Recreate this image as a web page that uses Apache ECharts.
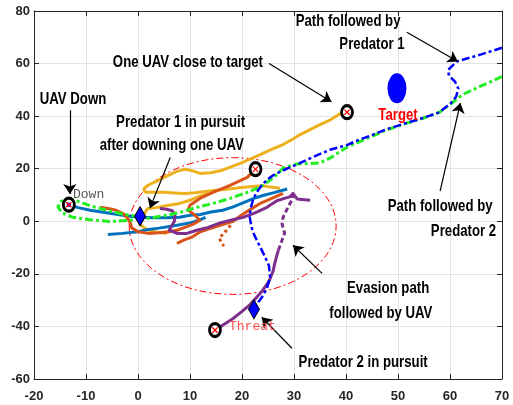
<!DOCTYPE html>
<html><head><meta charset="utf-8">
<script src="https://cdn.jsdelivr.net/npm/echarts@6/dist/echarts.min.js"></script>
<style>html,body{margin:0;padding:0;background:#fff}#chart{width:513px;height:405px}</style>
</head><body><div id="chart"></div>
<script>
// Axis ranges
const xRange = [-20, 70, 10];
const yRange = [-60, 80, 20];

// Predator trajectories (dash-dot)
const predatorBlue = [[70,66],[66,63.5],[61.3,60.8],[59.6,57.5],[59.8,55.5],[61,53],[61.6,50.5],[61.2,47.5],[60.2,45],[58,41.5],[54.8,39.3],[51,37],[47.5,34.8],[44.6,32.5],[42,30.6],[40.2,29],[36.9,27.2],[33.7,24.5],[31,22],[29.2,20.5],[27.5,19],[26,17.5],[24.8,15.8],[23.8,13.7],[22.8,11],[22.1,8],[21.6,4.5],[21.5,1.5],[21.8,-2],[22.3,-5],[23.3,-9],[24.3,-13],[25.2,-17],[25.4,-21.3],[24.8,-25.5],[23.8,-29],[22.5,-32.5]];
const predatorGreen = [[70,55],[66,51.5],[62.5,48.3],[60.5,45.2],[58,41.5],[54.8,39.2],[51,36.9],[47.5,34.5],[44.6,32],[40.2,28.2],[36.9,24],[35,22.2],[33,22],[30.6,21.8],[27.9,20.3],[26.7,17.8],[25.5,15.8],[24,13.7],[22.5,12.2],[21,11],[17.7,8.7],[14.4,6.8],[11.3,5.3],[8.1,3.4],[5.6,2.3],[1.7,1.1],[-1.5,0.4],[-5.4,-0.1],[-9.2,0.6],[-12.5,1.5],[-14.6,3.2],[-15.4,5.5],[-14.8,7.6],[-13.2,8.6],[-11.5,7.6],[-9,5.8],[-6,4.2],[-3,2.8],[-0.5,2]];

// UAV trajectories
const uavBlueA = [[-13.3,6.3],[-11.5,5.2],[-9.2,4.2],[-7,3.5],[-4.5,2.8],[-2,2],[0.5,1.5],[3,1.3],[5.5,1.3],[8,1.5],[10,2.3],[12,2.6],[14,3.5],[16.3,4.2],[18.3,5.5],[20.2,7],[22,8.5],[24,9.8],[26,10.8],[28.7,12.3]];
const uavBlueB = [[-5.8,-5],[-3,-4.6],[0,-4],[1.7,-3.2],[4,-2.6],[7.5,-1.5],[10,-0.6],[11.9,0.5],[13,1.5]];
const uavOrangeA = [[-7.3,5.3],[-5.5,4.8],[-4.2,4.2],[-2.8,2.8],[-2,1.2],[-1.5,-0.5],[-1.2,-2.5],[0,-4],[2,-4.6],[4,-4.4],[6,-4],[7.5,-3.4],[9,-2.3],[10.5,-1.2],[11.9,0.3],[11,2.3],[9.6,4.3],[10,6.1],[11.9,8.7],[14.4,11],[17.7,13.7],[21,16.7],[22.6,19.8]];
const uavOrangeB = [[7.5,-8.4],[9,-7],[10.4,-6],[12,-4],[13.5,-3],[15.8,-1.5],[18.3,0],[20,2.5],[22,5],[23.5,6.8],[25.5,8.5],[27.9,10.6]];
const uavOrangeC = [[17.8,-1.5],[17.2,-3],[16.3,-5],[15.6,-6.5],[16.2,-8.5],[16.5,-9.5]];
const uavYellowA = [[1,12.2],[2,13.8],[3.5,15.2],[5.5,17.2],[7.5,19],[9,19.8],[10.5,19.2],[12,18.2],[14,18.5],[16,19.3],[18,20.8],[20,22.3],[22,24],[24,25.8],[26,27.6],[28,29.3],[29.8,31.3],[31,32.8],[33,34.8],[35,36.8],[37,38.6],[38.8,40.8],[40.2,41.6]];
const uavYellowB = [[1,12.2],[1.5,11],[3,11],[5,11],[7,10.8],[9,10.6],[11,10.9],[13,11.3],[15,11.8],[17,12.2],[19.5,12.8],[22,13.2],[24,13.5],[25.5,13],[27.3,12.6]];
const uavYellowC = [[5.6,-4.6],[4,-4.3],[2.5,-3.8],[1.2,-2.5],[0.3,-1],[0.8,1.5],[1.8,4.8],[3.5,5.2],[5.6,6],[8,6.8],[10,8],[11.5,9.3],[13.5,10.6]];
const uavPurpleA = [[4.2,4.9],[5.5,4.6],[6.6,4],[7.1,2.3],[7,0],[6.4,-2],[6,-3.4],[7.5,-4.6],[9.4,-4.6],[11.3,-3.4],[13.5,-2.3],[15.8,-0.6],[18,0.5],[20.2,1.5],[22.5,3.2],[24.8,5.3],[26.7,7.8],[28.3,8.8],[29.2,9.3],[29.8,10.6],[30.6,8.5],[31.5,8.3],[33.1,8]];
const uavPurpleB = [[14.8,-41.4],[16.5,-39.3],[18.3,-37],[20,-34.3],[21.5,-31.8],[23,-28.5],[24,-26.2],[25.2,-22.8],[26,-18.8],[26.3,-16],[26.7,-13],[27,-11]];
const uavPurpleC = [[27,-11],[27.7,-7.2],[28.2,-4.5],[27.7,-1],[27.9,1.5],[28.5,4],[29,6],[29.6,8],[29.8,10.2]];

// Markers
const downedPoints = [[-13.3,6.3],[40.2,41.5],[22.6,19.8],[14.8,-41.4]];
const predatorPositions = [[0.4,1.9],[22.3,-33.5]];
const targetPoint = [[49.8,50.6]];
const threatZone = [[18.2,-1.8,19.9,26]];

// Annotation texts: [text, x, y]
const notes = [
  ['UAV Down', -12.5, 46.4],
  ['Predator 1 in pursuit', 8.2, 37.6],
  ['after downing one UAV', 6.5, 28.9],
  ['One UAV close to target', 9.6, 60.5],
  ['Path followed by', 40.4, 76],
  ['Predator 1', 45, 67.3],
  ['Path followed by', 58.1, 5.7],
  ['Predator 2', 62.6, -3.8],
  ['Evasion path', 48.1, -25.5],
  ['followed by UAV', 46.7, -35],
  ['Predator 2 in pursuit', 43.3, -53.6]
];
const targetLabel = [['Target', 50, 40.3]];
const monoLabels = [['Down', -12.5, 10.3, '#555555'], ['Threat', 17.5, -40, '#ff5050']];

// Arrows: [tail, head]
const arrows = [
  [[-13.1,42.2],[-13.1,10.4]],
  [[6.2,24.3],[2.3,5]],
  [[25.2,60],[37.2,45.5]],
  [[51.7,71.9],[61.5,60.8]],
  [[58.1,11.5],[62,45]],
  [[35.4,-19.8],[29.8,-9.1]],
  [[29.6,-48.3],[23.8,-36.5]]
];

const C_BLUE = '#0072BD', C_ORANGE = '#D95319', C_YELLOW = '#EDB120', C_PURPLE = '#7E2F8E';
const BOLD_FONT = 'bold 16.5px "Liberation Sans", Arial, sans-serif';

function path(data, color, width, type) {
  return { type: 'line', data, symbol: 'none', showSymbol: false, silent: true, animation: false, z: 2,
    lineStyle: { color, width, type: type || 'solid', cap: 'butt', join: 'round' } };
}

// Condensed bold text placed at data coordinates
function textSeries(items, color) {
  return {
    type: 'custom', silent: true, z: 6,
    data: items.map(n => [n[1], n[2]]),
    renderItem: function (params, api) {
      const p = api.coord([api.value(0), api.value(1)]);
      return { type: 'text', x: p[0], y: p[1], scaleX: 0.8,
        style: { text: items[params.dataIndex][0], font: BOLD_FONT, fill: color, align: 'center', verticalAlign: 'middle' } };
    }
  };
}

const axisCommon = {
  type: 'value',
  axisLine: { show: true, onZero: false, lineStyle: { color: '#262626', width: 1 } },
  axisTick: { show: true, inside: true, length: 5, lineStyle: { color: '#262626' } },
  splitLine: { show: false }
};
const labelStyle = { fontFamily: '"Liberation Sans",Arial,sans-serif', fontWeight: 'bold', fontSize: 13, color: '#262626' };

const option = {
  backgroundColor: '#fff',
  animation: false,
  grid: { left: 34, right: 11, top: 11, bottom: 26 },
  xAxis: [
    Object.assign({}, axisCommon, { min: xRange[0], max: xRange[1], interval: xRange[2], position: 'bottom',
      axisLabel: Object.assign({ margin: 11 }, labelStyle),
      splitLine: { show: true, lineStyle: { color: '#e3e3e3', width: 1 } } }),
    Object.assign({}, axisCommon, { min: xRange[0], max: xRange[1], interval: xRange[2], position: 'top',
      axisLabel: { show: false } })
  ],
  yAxis: [
    Object.assign({}, axisCommon, { min: yRange[0], max: yRange[1], interval: yRange[2], position: 'left',
      axisLabel: Object.assign({ margin: 4 }, labelStyle),
      splitLine: { show: true, lineStyle: { color: '#e3e3e3', width: 1 } } }),
    Object.assign({}, axisCommon, { min: yRange[0], max: yRange[1], interval: yRange[2], position: 'right',
      axisLabel: { show: false } })
  ],
  series: [
    {
      type: 'custom', silent: true, data: threatZone, z: 1,
      renderItem: function (params, api) {
        const c = api.coord([api.value(0), api.value(1)]);
        const s = api.size([api.value(2), api.value(3)]);
        return { type: 'ellipse', shape: { cx: c[0], cy: c[1], rx: s[0], ry: s[1] },
          style: { fill: 'none', stroke: '#ff0000', lineWidth: 1, lineDash: [7, 3, 2, 3] } };
      }
    },
    path(uavYellowA, C_YELLOW, 3),
    path(uavYellowB, C_YELLOW, 3),
    path(uavYellowC, C_YELLOW, 3),
    path(uavBlueA, C_BLUE, 3),
    path(uavBlueB, C_BLUE, 3),
    path(uavOrangeA, C_ORANGE, 3),
    path(uavOrangeB, C_ORANGE, 3),
    path(uavOrangeC, C_ORANGE, 3, [3, 3]),
    path(uavPurpleA, C_PURPLE, 3),
    path(uavPurpleB, C_PURPLE, 3),
    path(uavPurpleC, C_PURPLE, 3, [5, 3]),
    path(predatorGreen, '#22ee22', 3, [8, 3, 3, 3]),
    path(predatorBlue, '#0000ff', 2.5, [8, 3, 3, 3]),
    { type: 'scatter', silent: true, z: 3, data: targetPoint, symbol: 'circle', symbolSize: [19, 30],
      itemStyle: { color: '#0000ff', opacity: 1 } },
    { type: 'scatter', silent: true, z: 3, data: downedPoints, symbol: 'circle', symbolSize: [11, 13],
      itemStyle: { color: '#ffffff', borderColor: '#000', borderWidth: 3, opacity: 1 } },
    { type: 'scatter', silent: true, z: 4, data: [downedPoints[0]], symbol: 'rect', symbolSize: 4,
      itemStyle: { color: '#0000ff', opacity: 1 } },
    {
      // red crosses inside the downed markers
      type: 'custom', silent: true, z: 5, data: downedPoints,
      renderItem: function (params, api) {
        const p = api.coord([api.value(0), api.value(1)]);
        const d = 2.6;
        const st = { stroke: '#ff0000', lineWidth: 1.3 };
        return { type: 'group', children: [
          { type: 'line', shape: { x1: p[0] - d, y1: p[1] - d, x2: p[0] + d, y2: p[1] + d }, style: st },
          { type: 'line', shape: { x1: p[0] - d, y1: p[1] + d, x2: p[0] + d, y2: p[1] - d }, style: st }
        ] };
      }
    },
    { type: 'scatter', silent: true, z: 5, data: predatorPositions, symbol: 'diamond', symbolSize: [11, 19],
      itemStyle: { color: '#0000ff', borderColor: '#000', borderWidth: 1, opacity: 1 } },
    { type: 'lines', coordinateSystem: 'cartesian2d', silent: true, z: 6,
      data: arrows.map(a => ({ coords: a })),
      symbol: ['none', 'arrow'], symbolSize: 10,
      lineStyle: { color: '#000', width: 1.2, opacity: 1, curveness: 0 } },
    textSeries(notes, '#000000'),
    textSeries(targetLabel, '#ff0000'),
    {
      type: 'custom', silent: true, z: 6,
      data: monoLabels.map(n => [n[1], n[2]]),
      renderItem: function (params, api) {
        const p = api.coord([api.value(0), api.value(1)]);
        const m = monoLabels[params.dataIndex];
        return { type: 'text', x: p[0], y: p[1],
          style: { text: m[0], font: '13px "Liberation Mono", "DejaVu Sans Mono", monospace', fill: m[3], align: 'left', verticalAlign: 'middle' } };
      }
    }
  ]
};

const chart = echarts.init(document.getElementById('chart'), null, { renderer: 'canvas' });
chart.setOption(option);
</script></body></html>
